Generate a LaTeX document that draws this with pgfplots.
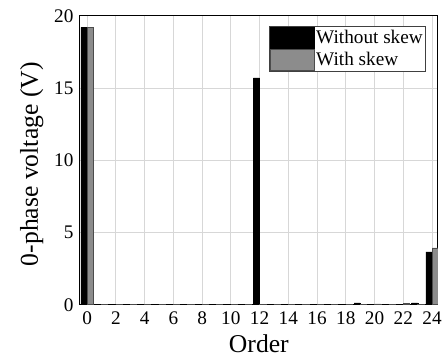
\documentclass[border=0pt]{standalone}
\usepackage{fontspec}
\setmainfont{Liberation Serif}
\usepackage{pgfplots}
\pgfplotsset{compat=1.18}
\usetikzlibrary{calc}

\definecolor{skewgray}{RGB}{140,140,140}
\definecolor{gridgray}{RGB}{215,215,215}

% harmonic order, 0-phase voltage (V)
\pgfplotstableread{
order noskew withskew
0  19.20 19.22
1  0.03 0.03
2  0.03 0.03
3  0.03 0.03
4  0.05 0.03
5  0.03 0.03
6  0.04 0.03
7  0.03 0.03
8  0.04 0.03
9  0.03 0.03
10 0.04 0.03
11 0.03 0.03
12 15.70 0.05
13 0.03 0.03
14 0.04 0.03
15 0.03 0.05
16 0.04 0.03
17 0.03 0.03
18 0.04 0.03
19 0.12 0.05
20 0.04 0.06
21 0.03 0.03
22 0.04 0.07
23 0.12 0.04
24 3.66 3.93
}\harmonics

\begin{document}
\begin{tikzpicture}
\begin{axis}[
  name=ax,
  scale only axis,
  width=363pt, height=293pt,
  xmin=-0.5, xmax=24.4,
  ymin=0, ymax=20,
  xtick={0,2,...,24},
  ytick={0,5,10,15,20},
  major tick length=0pt,
  grid=major,
  major grid style={gridgray, line width=0.8pt},
  axis line style={black, line width=0.9pt},
  tick label style={font=\fontsize{19.5}{21}\selectfont},
  xticklabel style={yshift=-4pt},
  yticklabel style={xshift=-3pt},
  /pgf/number format/assume math mode=true,
  xlabel={Order},
  ylabel={0-phase voltage (V)},
  label style={font=\fontsize{26}{28}\selectfont},
  xlabel style={yshift=-3pt},
  ylabel style={yshift=4pt, xshift=-4pt},
  ybar=0pt,
  bar width=6.3pt,
  legend cell align=left,
  legend image code/.code={\draw[#1] (0pt,-10.5pt) rectangle (44pt,10.5pt);},
  legend style={at={(0.967,0.966)}, anchor=north east,
    font=\fontsize{19.5}{21}\selectfont, draw=black!75, line width=0.6pt,
    inner sep=1pt, row sep=1pt,
    /tikz/every even column/.append style={column sep=2pt}},
]
\addplot[fill=black, draw=black, line width=0.4pt] table[x=order, y=noskew] {\harmonics};
\addlegendentry{Without skew}
\addplot[fill=skewgray, draw=black!70, line width=0.6pt] table[x=order, y=withskew] {\harmonics};
\addlegendentry{With skew}
\end{axis}
\path ($(ax.south west)+(-81pt,-56pt)$) rectangle ($(ax.north east)+(1pt,16pt)$);
\end{tikzpicture}
\end{document}
